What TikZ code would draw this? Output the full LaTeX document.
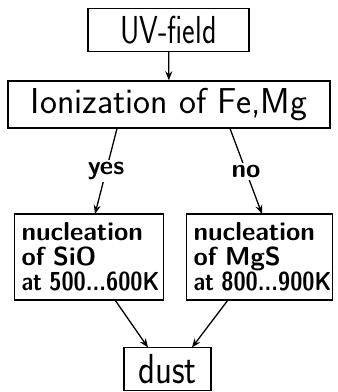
\documentclass[tikz,border=0pt]{standalone}
\usetikzlibrary{arrows.meta,calc}
\newcommand{\narrowline}[1]{\mbox{\scalebox{0.85}[1]{#1}}}
\begin{document}
\begin{tikzpicture}[x=1pt,y=-1pt,
  box/.style={draw,line width=1.4pt,inner sep=0pt,font=\sffamily},
  nbox/.style={box,minimum height=86pt,text width=#1,align=left,inner xsep=7pt,
    font=\fontsize{26}{25}\selectfont\sffamily\bfseries},
  conn/.style={line width=1.3pt,-{Stealth[length=9pt,width=7pt]}},
  lbl/.style={fill=white,inner sep=2pt,font=\fontsize{26}{28}\selectfont\sffamily\bfseries}]
\useasboundingbox (0,0) rectangle (338,392);
\node[box,minimum width=161pt,minimum height=43pt,font=\fontsize{30}{32}\selectfont\sffamily] (uv) at (168.5,30) {\scalebox{1}[1.3]{UV-field}};
\node[box,minimum width=322pt,minimum height=47pt,font=\fontsize{36}{40}\selectfont\sffamily] (ion) at (169,104.5) {Ionization of Fe,Mg};
\node[nbox=135pt] (sio) at (89,257) {nucleation\\of SiO\\\narrowline{at 500...600K}};
\node[nbox=132pt] (mgs) at (259.5,257) {nucleation\\of MgS\\\narrowline{at 800...900K}};
\node[box,minimum width=87pt,minimum height=43pt,font=\fontsize{35}{36}\selectfont\sffamily] (dust) at (167.5,369) {\scalebox{1}[1.2]{dust}};
\coordinate (ionL) at (117,128.5);
\coordinate (ionR) at (230,128.5);
\coordinate (sioT) at (95,214);
\coordinate (mgsT) at (262,214);
\coordinate (sioB) at (115,300);
\coordinate (mgsB) at (228,300);
\coordinate (dustL) at (148,347.5);
\coordinate (dustR) at (192,347.5);
\draw[conn] (uv) -- (ion);
\draw[conn] (ionL) -- node[lbl] (yes) {yes} (sioT);
\draw[conn] (ionR) -- node[lbl] (no) {no} (mgsT);
\draw[conn] (sioB) -- (dustL);
\draw[conn] (mgsB) -- (dustR);
\end{tikzpicture}
\end{document}
